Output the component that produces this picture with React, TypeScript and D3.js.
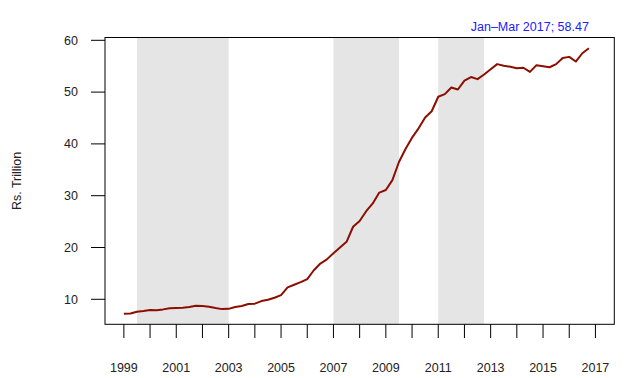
import React from "react";
import * as d3 from "d3";

const startYear = 1999;
const values: number[] = [
  7.2, 7.25, 7.6, 7.75,
  7.95, 7.9, 8.05, 8.25,
  8.3, 8.35, 8.5, 8.75,
  8.7, 8.55, 8.3, 8.1,
  8.15, 8.5, 8.7, 9.1,
  9.15, 9.65, 9.9, 10.3,
  10.8, 12.3, 12.8, 13.3,
  13.9, 15.6, 16.9, 17.7,
  18.9, 20.0, 21.1, 24.0,
  25.1, 27.0, 28.5, 30.6,
  31.1, 33.0, 36.5, 39.0,
  41.2, 43.0, 45.1, 46.3,
  49.1, 49.6, 50.9, 50.5,
  52.2, 52.9, 52.5, 53.4,
  54.4, 55.4, 55.1, 54.9,
  54.6, 54.7, 53.9, 55.2,
  55.0, 54.8, 55.4, 56.6,
  56.8, 55.9, 57.5, 58.47,
];
const shadeStarts: number[] = [1999.5, 2007.0, 2011.0];
const shadeEnds: number[] = [2003.0, 2009.5, 2012.75];
const yTicks: number[] = [10, 20, 30, 40, 50, 60];
const xTicks: number[] = d3.range(1999, 2018);
const xLabelYears: number[] = [1999, 2001, 2003, 2005, 2007, 2009, 2011, 2013, 2015, 2017];
const annotation = "Jan\u2013Mar 2017; 58.47";
const yTitle = "Rs. Trillion";

export default function App() {
  const W = 640, H = 378;
  const left = 105, right = 614.3, top = 37.5, bottom = 324.3;
  const x = d3.scaleLinear().domain([1998.28, 2017.72]).range([left, right]);
  const y = d3.scaleLinear().domain([5.17, 60.54]).range([bottom, top]);
  const pts = values.map((v, i) => [startYear + i * 0.25, v] as [number, number]);
  const line = d3.line<[number, number]>().x(d => x(d[0])).y(d => y(d[1]));
  const last = pts[pts.length - 1];
  const font = "'Liberation Sans', Arial, Helvetica, sans-serif";
  return (
    <div style={{ position: "fixed", left: 0, top: 0 }}>
      <svg width={W} height={H} style={{ display: "block", background: "white" }} fontFamily={font}>
        <rect x={0} y={0} width={W} height={H} fill="white" />
        {shadeStarts.map((s, i) => (
          <rect key={i} x={x(s)} y={top} width={x(shadeEnds[i]) - x(s)} height={bottom - top} fill="#e5e5e5" />
        ))}
        <path d={line(pts) || ""} fill="none" stroke="#8b0e00" strokeWidth={2} strokeLinejoin="round" />
        <rect x={left} y={top} width={right - left} height={bottom - top} fill="none" stroke="black" strokeWidth={1} />
        {yTicks.map(t => (
          <g key={t}>
            <line x1={91} x2={left} y1={y(t)} y2={y(t)} stroke="black" />
            <text x={78} y={y(t)} dy="0.35em" textAnchor="end" fontSize={12.5} fill="#222">{t}</text>
          </g>
        ))}
        {xTicks.map(t => (
          <line key={t} x1={x(t)} x2={x(t)} y1={bottom} y2={338} stroke="black" />
        ))}
        {xLabelYears.map(t => (
          <text key={t} x={x(t)} y={372} textAnchor="middle" fontSize={12.5} fill="#222">{t}</text>
        ))}
        <text transform={`translate(21,${(top + bottom) / 2}) rotate(-90)`} textAnchor="middle" fontSize={12.5} fill="#222">{yTitle}</text>
        <text x={x(last[0])} y={31} textAnchor="end" fontSize={12.5} fill="#2020ff">{annotation}</text>
      </svg>
    </div>
  );
}
